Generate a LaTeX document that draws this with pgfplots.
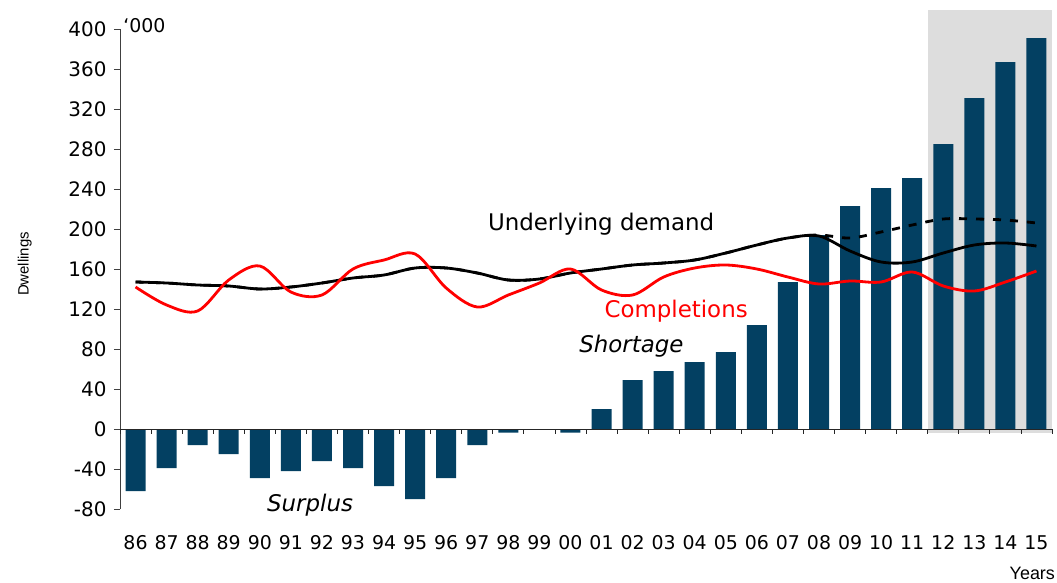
\documentclass[border=0pt]{standalone}
\usepackage{pgfplots}
\pgfplotsset{compat=1.18}
\usepackage{fontspec}
\setmainfont{DejaVu Sans}
\newfontfamily\arialf{Liberation Sans}
\definecolor{barblue}{RGB}{3,64,98}
\definecolor{shadegray}{RGB}{221,221,221}

\pgfplotstableread{
x y
0 -62
1 -39
2 -16
3 -25
4 -49
5 -42
6 -32
7 -39
8 -57
9 -70
10 -49
11 -16
12 -3.5
13 0
14 -3.5
15 20
16 49
17 58
18 67
19 77
20 104
21 147
22 194
23 223
24 241
25 251
26 285
27 331
28 367
29 391
}\bars

\pgfplotstableread{
x comp dem demd
0 142 147 147
1 124 146 146
2 118 144 144
3 149 143 143
4 163 140 140
5 137 142 142
6 134 146 146
7 160 151 151
8 169 154 154
9 175 161 161
10 141 161 161
11 122 156 156
12 134 149 149
13 146 150 150
14 160 156 156
15 139 160 160
16 134 164 164
17 152 166 166
18 161 169 169
19 164 176 176
20 160 184 184
21 152 191 191
22 145 193 194
23 148 178 191
24 147 167 197
25 157 167 204
26 143 176 210
27 138 184 210
28 147 186 209
29 158 183 206
}\lines

\begin{document}
\begin{tikzpicture}
\begin{axis}[
  scale only axis, width=932bp, height=480bp,
  xmin=-0.5, xmax=29.5, ymin=-80, ymax=400,
  axis y line=left, axis x line=bottom,
  x axis line style={draw=none},
  y axis line style={-, black!75, line width=0.8bp},
  ytick={-80,-40,...,400},
  xtick={0,...,29},
  xticklabels={86,87,88,89,90,91,92,93,94,95,96,97,98,99,00,01,02,03,04,05,06,07,08,09,10,11,12,13,14,15},
  x tick style={draw=none},
  y tick style={black!75, line width=0.8bp},
  tick align=outside, major tick length=6bp,
  /pgf/number format/assume math mode=true,
  yticklabel style={font=\fontsize{20}{23}\selectfont, xshift=-4bp},
  xticklabel style={font=\fontsize{19}{22}\selectfont, yshift=-17bp},
  clip=false,
]
\fill[shadegray] (axis cs:25.5,-4) rectangle (axis cs:29.5,419);
\addplot[ybar, bar width=20bp, fill=barblue, draw=none] table[x=x,y=y] {\bars};
\addplot[black, line width=2.8bp, dash pattern=on 8bp off 9bp, smooth, tension=0.55, no marks] table[x=x,y=demd] {\lines};
\addplot[black, line width=2.8bp, smooth, tension=0.55, no marks] table[x=x,y=dem] {\lines};
\addplot[red, line width=2.8bp, smooth, tension=0.55, no marks] table[x=x,y=comp] {\lines};
\node[anchor=base west, inner sep=0, font=\fontsize{23}{26}\selectfont] at (axis cs:11.34,199) {Underlying demand};
\node[anchor=base west, inner sep=0, text=red, font=\fontsize{23}{26}\selectfont] at (axis cs:15.09,112) {Completions};
\node[anchor=base west, inner sep=0, font=\fontsize{23}{26}\selectfont\itshape] at (axis cs:14.28,77) {Shortage};
\node[anchor=base west, inner sep=0, font=\fontsize{23}{26}\selectfont\itshape] at (axis cs:4.23,-82.7) {Surplus};
\node[anchor=base west, inner sep=0, font=\fontsize{19}{22}\selectfont] at (axis cs:-0.4,397) {‘000};
\node[rotate=90, inner sep=0, font=\arialf\fontsize{15}{18}\selectfont] at (axis cs:-3.565,165) {Dwellings};
\node[anchor=base east, inner sep=0, font=\arialf\fontsize{18}{21}\selectfont] at (axis cs:29.6,-150) {Years};
\end{axis}
\begin{axis}[
  scale only axis, width=932bp, height=480bp,
  xmin=-0.5, xmax=29.5, ymin=-80, ymax=400,
  axis x line=middle, axis y line=none,
  xtick={-0.5,0.5,...,29.5}, xticklabels={}, ytick=\empty,
  tick align=outside, major tick length=5bp,
  x axis line style={-, black!85, line width=0.8bp},
  x tick style={black!85, line width=0.8bp},
]
\end{axis}
\pgfresetboundingbox
\useasboundingbox (-120bp,-74bp) rectangle (937bp,509bp);
\end{tikzpicture}
\end{document}
